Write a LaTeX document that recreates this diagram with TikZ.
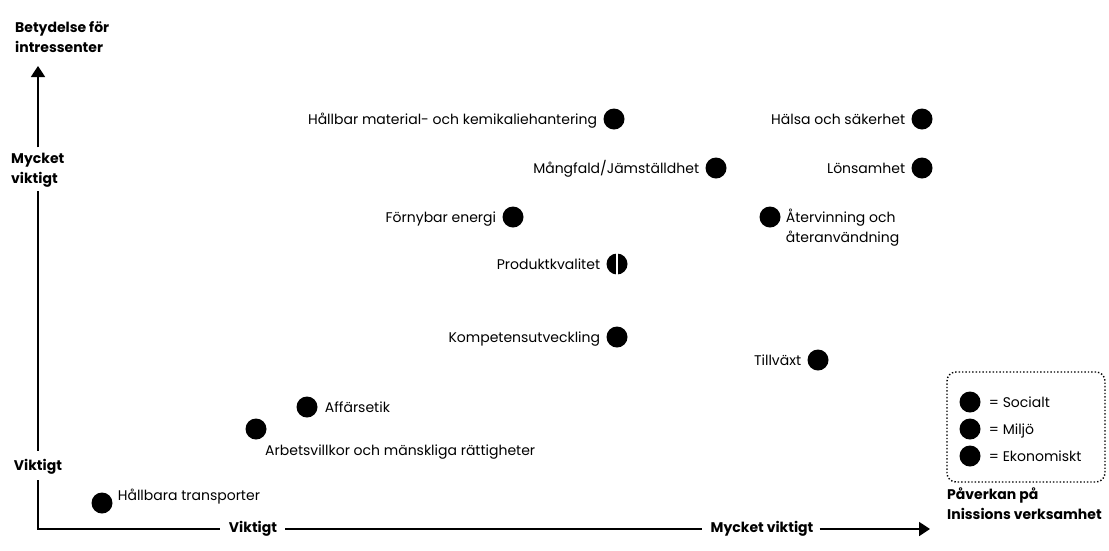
\documentclass[tikz,border=0pt]{standalone}
\usepackage{fontspec}
\setmainfont{Poppins}
\usetikzlibrary{arrows.meta,calc}
\begin{document}
\begin{tikzpicture}[x=1pt,y=-1pt,
  dot/.style={circle,fill=black,minimum size=21pt,inner sep=0pt},
  lbl/.style={font=\fontsize{14}{20}\selectfont,inner sep=0pt,align=left},
  axlbl/.style={font=\fontsize{14}{20}\selectfont\bfseries,inner sep=0pt,align=left},
  axis/.style={line width=1.8pt},
  tip/.style={-{Triangle[length=11pt,width=14pt]}}]
\useasboundingbox (0,0) rectangle (1109,550);
% axes labels
\node[axlbl,anchor=base west] (ytitle) at (15,52) {Betydelse för\\intressenter};
\coordinate (top) at (38,66);
\node[axlbl,anchor=base west] (ylab1) at (11,183) {Mycket\\viktigt};
\node[axlbl,anchor=base] (ylab2) at (38,470) {Viktigt};
\coordinate (corner) at (38,529);
\node[axlbl] (xlab1) at (253,529) {Viktigt};
\node[axlbl] (xlab2) at (762,529) {Mycket viktigt};
\coordinate (xend) at (930,529);
\node[axlbl,anchor=base west] (xtitle) at (947,519) {Påverkan på\\Inissions verksamhet};
\draw[axis,tip] ($(top |- ylab1.north)+(0,-5)$) -- (top);
\draw[axis] ($(top |- ylab1.south)+(0,4)$) -- ($(top |- ylab2.north)+(0,-8)$);
\draw[axis] ($(top |- ylab2.south)+(0,6)$) -- (corner) -- ($(xlab1.west)+(-9,0)$);
\draw[axis] ($(xlab1.east)+(8,0)$) -- ($(xlab2.west)+(-8,0)$);
\draw[axis,tip] ($(xlab2.east)+(6,0)$) -- (xend);
% dots
\node[dot] (d1) at (614,119) {};
\node[lbl,anchor=base east] at ($(d1.west)+(-6,5)$) {Hållbar material- och kemikaliehantering};
\node[dot] (d2) at (922,119) {};
\node[lbl,anchor=base east] at ($(d2.west)+(-6,5)$) {Hälsa och säkerhet};
\node[dot] (d3) at (716,168) {};
\node[lbl,anchor=base east] at ($(d3.west)+(-6,5)$) {Mångfald/Jämställdhet};
\node[dot] (d4) at (922,168) {};
\node[lbl,anchor=base east] at ($(d4.west)+(-6,5)$) {Lönsamhet};
\node[dot] (d5) at (513,217) {};
\node[lbl,anchor=base east] at ($(d5.west)+(-6,5)$) {Förnybar energi};
\node[dot] (d6) at (770,217) {};
\node[lbl,anchor=base west] at ($(d6.east)+(5,25)$) {Återvinning och\\återanvändning};
\node[dot] (d7) at (617,264) {};
\draw[white,line width=1.5pt] (d7.north) -- (d7.south);
\node[lbl,anchor=base east] at ($(d7.west)+(-6,5)$) {Produktkvalitet};
\node[dot] (d8) at (617,337) {};
\node[lbl,anchor=base east] at ($(d8.west)+(-6,5)$) {Kompetensutveckling};
\node[dot] (d9) at (818,360) {};
\node[lbl,anchor=base east] at ($(d9.west)+(-6,5)$) {Tillväxt};
\node[dot] (d10) at (307,407) {};
\node[lbl,anchor=base west] at ($(d10.east)+(7,5)$) {Affärsetik};
\node[dot] (d11) at (256,429) {};
\node[lbl,anchor=base west] at (265,455) {Arbetsvillkor och mänskliga rättigheter};
\node[dot] (d12) at (102,503) {};
\node[lbl,anchor=base west] at ($(d12.east)+(5,-3)$) {Hållbara transporter};
% legend
\node[draw,dotted,line width=1.4pt,rounded corners=9pt,minimum width=158pt,minimum height=110pt] (leg) at (1026,427) {};
\node[dot] (l1) at (970,402) {};
\node[lbl,anchor=base west] at ($(l1.east)+(8,5)$) {= Socialt};
\node[dot] (l2) at (970,429) {};
\node[lbl,anchor=base west] at ($(l2.east)+(8,5)$) {= Miljö};
\node[dot] (l3) at (970,456) {};
\node[lbl,anchor=base west] at ($(l3.east)+(8,5)$) {= Ekonomiskt};
\end{tikzpicture}
\end{document}
